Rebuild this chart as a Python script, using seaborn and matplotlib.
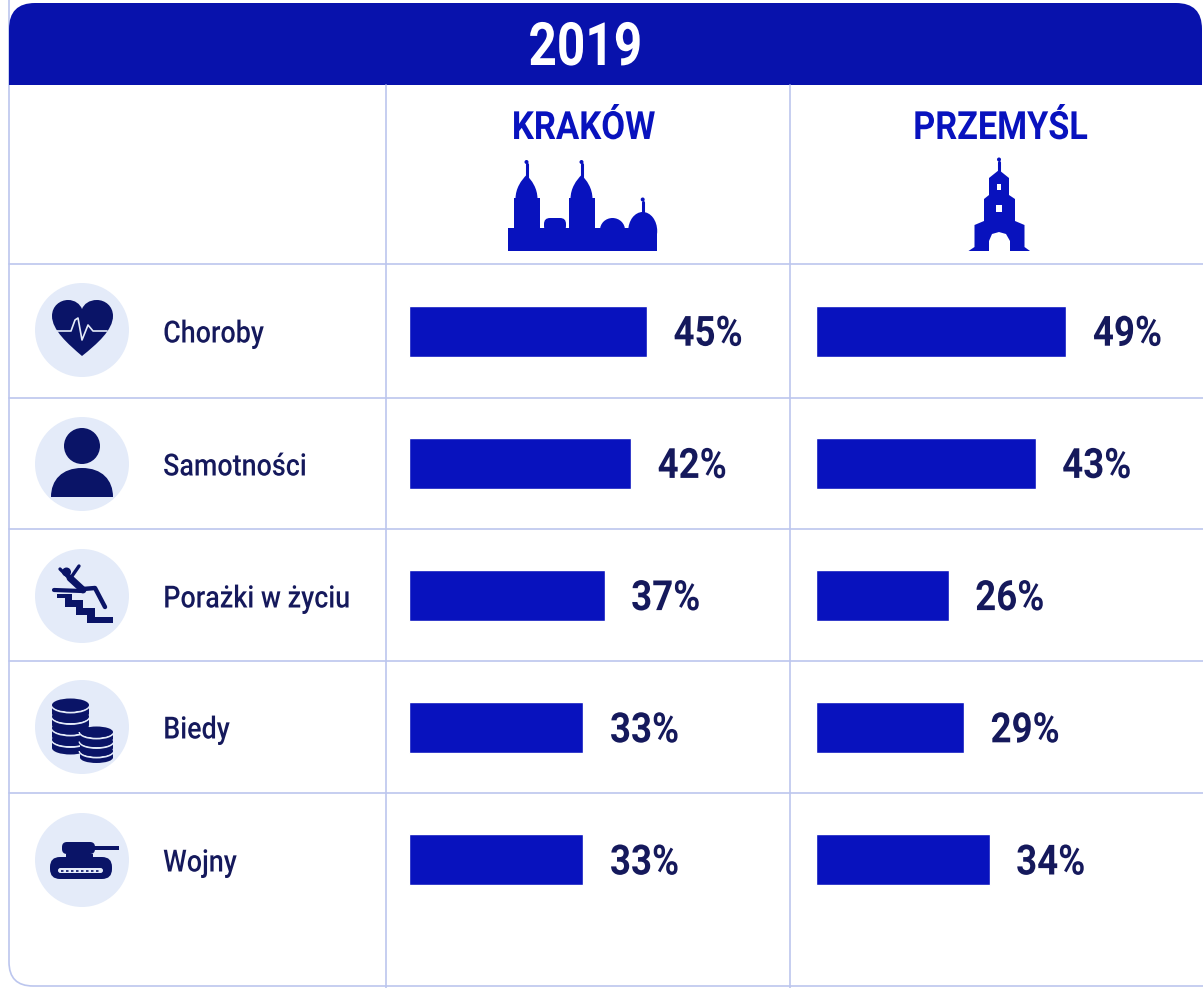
import numpy as np
import pandas as pd
import matplotlib
matplotlib.use("Agg")
import matplotlib.pyplot as plt
import seaborn as sns
from matplotlib.patches import Circle, Ellipse, Rectangle, Polygon, FancyBboxPatch, PathPatch, Arc
from matplotlib.patheffects import AbstractPathEffect
from matplotlib.path import Path
from matplotlib.transforms import Affine2D

# data
year = "2019"
cities = ["KRAKÓW", "PRZEMYŚL"]
categories = ["Choroby", "Samotności", "Porażki w życiu", "Biedy", "Wojny"]
krakow = [45, 42, 37, 33, 33]
przemysl = [49, 43, 26, 29, 34]

BLUE = "#0812BE"
HEAD = "#0812AC"
NAVY = "#0A1467"
TEXT = "#15195C"
PALE = "#E4EBF9"
GRID = "#BCC6EE"

sns.set_theme(style="white")
plt.rcParams["font.family"] = ["Roboto", "DejaVu Sans"]

W, H = 1203, 988
fig = plt.figure(figsize=(W / 100, H / 100), dpi=100, facecolor="white")


# no condensed font installed, so squeeze the glyphs sideways
class Squeeze(AbstractPathEffect):
    def __init__(self, sx, anchor=0.0):
        super().__init__()
        self.sx = sx
        self.anchor = anchor

    def draw_path(self, renderer, gc, tpath, affine, rgbFace=None):
        box = tpath.get_extents(affine)
        x0 = box.x0 + self.anchor * box.width
        squeezed = affine + Affine2D().translate(-x0, 0).scale(self.sx, 1).translate(x0, 0)
        renderer.draw_path(gc, tpath, squeezed, rgbFace)


# background layer in pixel coordinates, for the frame and the icons
bg = fig.add_axes([0, 0, 1, 1])
bg.set_xlim(0, W)
bg.set_ylim(H, 0)
bg.axis("off")

# -------------------------
# frame and header
# -------------------------
frame = FancyBboxPatch((9, -30), W + 40, H - 2 + 30, boxstyle="round,pad=0,rounding_size=24",
                       fc="none", ec=GRID, lw=1.2)
bg.add_patch(frame)
head = FancyBboxPatch((9, 3), W - 9 - 1, 130, boxstyle="round,pad=0,rounding_size=26", fc=HEAD, ec="none")
bg.add_patch(head)
head.set_clip_path(Rectangle((0, 0), W, 85, transform=bg.transData))
bg.text(585.5, 43, year, color="white", fontsize=43, fontweight="bold", ha="center", va="center_baseline",
        path_effects=[Squeeze(0.83, 0.5)])

for x in [386, 790]:
    bg.plot([x, x], [85, H], color=GRID, lw=1.2)
for y in [264, 398, 529, 661, 793]:
    bg.plot([9, W], [y, y], color=GRID, lw=1.2)

bg.text(583.5, 124.5, cities[0], color=BLUE, fontsize=28, fontweight="bold", ha="center", va="center_baseline",
        path_effects=[Squeeze(0.89, 0.5)])
bg.text(1000.5, 124.5, cities[1], color=BLUE, fontsize=28, fontweight="bold", ha="center", va="center_baseline",
        path_effects=[Squeeze(0.88, 0.5)])


# -------------------------
# icons
# -------------------------
def rect(x0, y0, x1, y1, color=BLUE):
    bg.add_patch(Rectangle((x0, y0), x1 - x0, y1 - y0, fc=color, ec="none"))


def tower(cx, half, top, peak, spire):
    rect(cx - half, top, cx + half, 235)
    verts = [(cx - half + 2, top + 1), (cx - half + 2, top - 10), (cx - 5, peak + 5), (cx, peak),
             (cx + 5, peak + 5), (cx + half - 2, top - 10), (cx + half - 2, top + 1)]
    codes = [Path.MOVETO, Path.CURVE4, Path.CURVE4, Path.CURVE4, Path.CURVE4, Path.CURVE4, Path.CURVE4]
    bg.add_patch(PathPatch(Path(verts, codes), fc=BLUE, ec="none"))
    bg.plot([cx, cx], [spire + 4, peak + 2], color=BLUE, lw=2.2)
    bg.add_patch(Circle((cx, spire + 2), 2, fc=BLUE, ec="none"))


# Kraków skyline
rect(507.5, 228, 657, 251)
tower(526.5, 13, 198, 175, 160)
tower(581.5, 13, 198, 175, 160)
bg.add_patch(FancyBboxPatch((544, 218), 22, 14, boxstyle="round,pad=0,rounding_size=6", fc=BLUE, ec="none"))
bg.add_patch(Ellipse((612.5, 230), 25, 24, fc=BLUE, ec="none"))
bg.add_patch(Ellipse((642.7, 231), 29, 38, fc=BLUE, ec="none"))
bg.plot([642.7, 642.7], [202, 213], color=BLUE, lw=2.2)
bg.add_patch(Circle((642.7, 199.5), 2, fc=BLUE, ec="none"))

# Przemyśl church
bg.add_patch(Polygon([(999, 170), (1004, 174), (1009, 178), (1009, 195), (1015, 199), (1015, 221), (1024.5, 225),
                      (1024.5, 247), (1030, 251), (1010, 251), (1010, 241), (1006, 234), (999, 232), (992, 234),
                      (989, 241), (989, 251), (968.5, 251), (974.5, 247), (974.5, 225), (984, 221), (984, 199),
                      (989, 195), (989, 178), (994, 174)], fc=BLUE, ec="none"))
bg.plot([999, 999], [162, 172], color=BLUE, lw=2.2)
bg.add_patch(Circle((999, 159.5), 2, fc=BLUE, ec="none"))
rect(997, 184, 1001, 190, "white")
rect(996, 205, 1002, 212, "white")

# circles behind the row icons
for cy in [330, 464, 596, 727, 860]:
    bg.add_patch(Circle((82, cy), 47, fc=PALE, ec="none"))

# heart
verts = [(82, 356), (68, 344), (52, 330), (52, 316), (52, 306), (60, 300), (68, 300), (75, 300), (80, 304), (82, 309),
         (84, 304), (89, 300), (97, 300), (105, 300), (113, 306), (113, 316), (113, 330), (97, 344), (82, 356)]
codes = [Path.MOVETO] + [Path.CURVE4] * 18
bg.add_patch(PathPatch(Path(verts, codes), fc=NAVY, ec="none"))
bg.plot([57, 71, 75, 78, 82, 88, 93, 107], [331, 331, 320, 318, 340, 325, 331, 331], color=PALE, lw=1.2)

# person
bg.add_patch(Circle((82, 446), 18, fc=NAVY, ec="none"))
verts = [(51, 497), (51, 480), (62, 468), (82, 468), (102, 468), (113, 480), (113, 497), (51, 497)]
codes = [Path.MOVETO, Path.CURVE4, Path.CURVE4, Path.CURVE4, Path.CURVE4, Path.CURVE4, Path.CURVE4, Path.CLOSEPOLY]
bg.add_patch(PathPatch(Path(verts, codes), fc=NAVY, ec="none"))

# falling figure on the stairs
stairs = [(170, 972), (215, 972), (215, 990), (250, 990), (250, 1015), (285, 1015), (285, 1040), (338, 1040),
          (338, 1060), (262, 1060), (262, 1035), (228, 1035), (228, 1010), (195, 1010), (195, 985), (170, 985)]
bg.add_patch(Polygon([(x / 3, 270 + y / 3) for x, y in stairs], fc=NAVY, ec="none"))
bg.add_patch(Circle((66.5, 572), 4.5, fc=NAVY, ec="none"))
for xs, ys, lw in [([60, 70, 79], [569, 579, 566], 2.4), ([70, 83], [578, 590], 5), ([83, 95, 105], [589, 588, 607], 3.2),
                   ([82, 54], [591, 590], 3)]:
    bg.plot(xs, ys, color=NAVY, lw=lw, solid_capstyle="round")


# coins
def coin_stack(cx, top, w, n, step, eh=13):
    for i in range(n - 1, -1, -1):
        y = top + i * step
        bg.add_patch(Ellipse((cx, y + step - 3), w, eh, fc=NAVY, ec="none"))
        rect(cx - w / 2, y, cx + w / 2, y + step - 3, NAVY)
        bg.add_patch(Arc((cx, y), w + 1, eh + 2, theta1=0, theta2=180, color=PALE, lw=1.4))
        bg.add_patch(Ellipse((cx, y), w, eh, fc=NAVY, ec="none"))


coin_stack(70.5, 705, 37, 4, 11.5)
coin_stack(96.5, 732, 33, 3, 9.5, eh=11)

# tank
bg.add_patch(FancyBboxPatch((50, 857), 62, 22, boxstyle="round,pad=0,rounding_size=10", fc=NAVY, ec="none"))
bg.add_patch(FancyBboxPatch((62, 842), 33, 12, boxstyle="round,pad=0,rounding_size=5", fc=NAVY, ec="none"))
rect(94, 846, 119, 850, NAVY)
rect(66, 854, 93, 857, NAVY)
bg.add_patch(FancyBboxPatch((58, 868), 45, 5, boxstyle="round,pad=0,rounding_size=2.5", fc=PALE, ec="none"))
bg.plot([61, 100], [870.5, 870.5], color=NAVY, lw=1.2, ls=(0, (1.5, 1.5)))

# row labels
for cat, cy in zip(categories, [331, 464, 596, 727, 860]):
    bg.text(163, cy, cat, color=TEXT, fontsize=22, fontweight="medium", ha="left", va="center_baseline",
            path_effects=[Squeeze(0.88)])

# -------------------------
# bars
# -------------------------
top_px, bottom_px = 265, 926


def bar_panel(values, left, right, px_per_pct):
    ax = fig.add_axes([left / W, 1 - bottom_px / H, (right - left) / W, (bottom_px - top_px) / H])
    ax.patch.set_alpha(0)
    df = pd.DataFrame({"cat": categories, "pct": values})
    sns.barplot(data=df, x="pct", y="cat", color=BLUE, saturation=1, width=0.385, ax=ax)
    ax.set_xlim(0, (right - left) / px_per_pct)
    ax.set_ylim(4.5, -0.5)
    labels = ax.bar_label(ax.containers[0], fmt="%g%%", padding=19, color=TEXT, fontsize=30, fontweight="bold")
    for t in labels:
        t.set_va("center_baseline")
        t.xyann = (t.xyann[0], t.xyann[1] + 1)
        t.set_path_effects([Squeeze(0.88)])
    ax.axis("off")
    return ax


ax_k = bar_panel(krakow, 408.5, 790, 5.3)
ax_p = bar_panel(przemysl, 815.5, 1203, 5.12)

fig.savefig("out.png", dpi=100)
